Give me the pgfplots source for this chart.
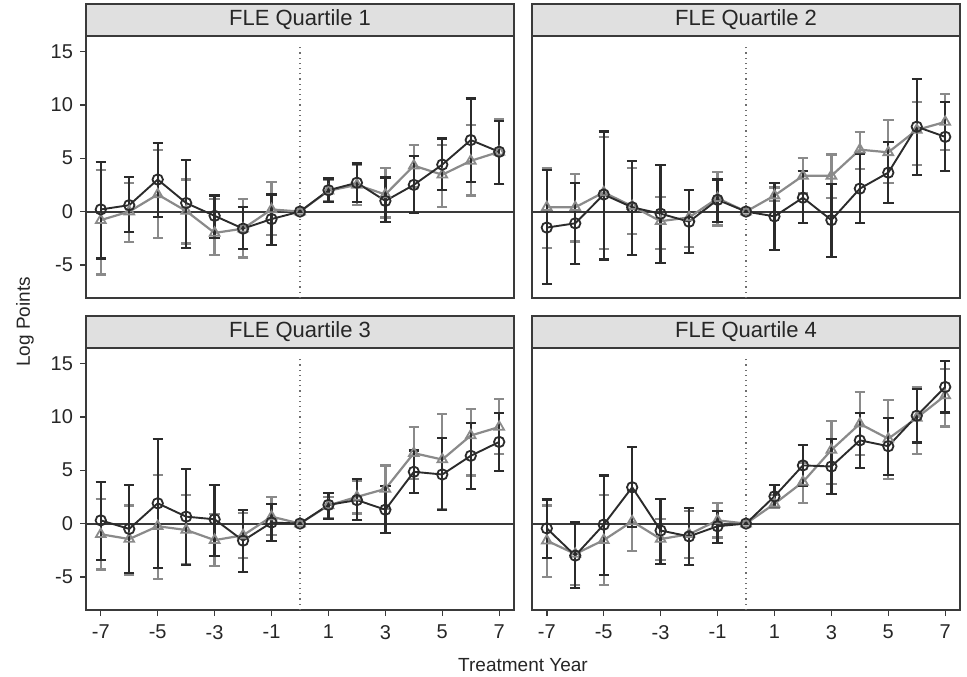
\documentclass[border=0pt]{standalone}
\usepackage{fontspec}
\setmainfont{Liberation Sans}
\usepackage{pgfplots}
\usepackage{pgfplotstable}
\pgfplotsset{compat=1.18}

\definecolor{blkcol}{HTML}{2B2B2B}
\definecolor{grycol}{HTML}{8A8A8A}
\definecolor{framecol}{HTML}{3A3A3A}
\definecolor{stripfill}{HTML}{E0E0E0}

% x  estimate  lower  upper
\pgfplotstableread{
x y lo hi
-7 0.2 -4.4 4.65
-6 0.6 -1.95 3.25
-5 3.0 -0.5 6.4
-4 0.8 -3.4 4.8
-3 -0.4 -2.5 1.5
-2 -1.6 -3.5 0.45
-1 -0.7 -3.1 1.6
0 0 0 0
1 2.0 0.9 3.1
2 2.7 0.9 4.5
3 1.0 -1.0 3.2
4 2.5 -0.1 5.2
5 4.4 2.0 6.85
6 6.7 2.8 10.6
7 5.6 2.6 8.5
}\qonek
\pgfplotstableread{
x y lo hi
-7 -0.8 -5.9 3.9
-6 0.0 -2.85 2.7
-5 1.6 -2.5 5.75
-4 0.05 -3.0 3.0
-3 -2.0 -4.1 1.2
-2 -1.6 -4.3 1.15
-1 0.2 -2.2 2.8
0 0 0 0
1 1.95 1.0 3.0
2 2.5 0.6 4.4
3 1.6 -0.55 4.1
4 4.3 2.3 6.25
5 3.45 0.4 6.25
6 4.75 1.5 8.1
7 5.6 2.6 8.7
}\qoneg
\pgfplotstableread{
x y lo hi
-7 -1.5 -6.8 3.9
-6 -1.1 -4.9 2.65
-5 1.6 -4.5 7.5
-4 0.4 -4.1 4.75
-3 -0.2 -4.8 4.35
-2 -0.95 -3.85 2.0
-1 1.1 -0.95 3.0
0 0 0 0
1 -0.45 -3.6 2.7
2 1.3 -1.1 3.8
3 -0.8 -4.25 2.55
4 2.15 -1.1 5.45
5 3.65 0.8 6.55
6 7.95 3.45 12.4
7 7.0 3.8 10.3
}\qtwok
\pgfplotstableread{
x y lo hi
-7 0.4 -3.4 4.1
-6 0.4 -2.8 3.55
-5 1.8 -3.5 7.0
-4 0.5 -2.1 4.1
-3 -0.9 -3.5 1.4
-2 -0.55 -3.3 2.0
-1 1.25 -1.3 3.7
0 0 0 0
1 1.5 1.0 2.25
2 3.35 1.7 5.0
3 3.35 1.25 5.35
4 5.8 4.0 7.45
5 5.55 2.7 8.55
6 7.65 4.35 10.3
7 8.4 5.8 11.0
}\qtwog
\pgfplotstableread{
x y lo hi
-7 0.3 -3.4 3.9
-6 -0.5 -4.6 3.6
-5 1.9 -4.15 7.9
-4 0.65 -3.85 5.15
-3 0.4 -3.05 3.65
-2 -1.6 -4.55 1.3
-1 0.1 -1.65 1.8
0 0 0 0
1 1.75 0.45 2.9
2 2.2 0.3 4.15
3 1.3 -0.9 3.55
4 4.85 2.85 6.85
5 4.6 1.3 8.0
6 6.35 3.25 9.4
7 7.65 4.9 10.35
}\qthreek
\pgfplotstableread{
x y lo hi
-7 -1.0 -4.3 2.3
-6 -1.45 -4.8 1.7
-5 -0.25 -5.2 4.55
-4 -0.6 -3.8 2.7
-3 -1.55 -4.0 0.9
-2 -1.1 -3.2 1.0
-1 0.65 -1.1 2.5
0 0 0 0
1 1.7 0.55 2.5
2 2.5 0.95 4.0
3 3.25 1.4 5.45
4 6.6 4.2 9.05
5 6.0 1.4 10.3
6 8.25 4.5 10.7
7 9.05 6.55 11.7
}\qthreeg
\pgfplotstableread{
x y lo hi
-7 -0.45 -3.25 2.25
-6 -3.0 -6.05 0.1
-5 -0.1 -4.8 4.5
-4 3.4 -0.3 7.15
-3 -0.65 -3.8 2.3
-2 -1.2 -3.85 1.45
-1 -0.25 -1.8 1.2
0 0 0 0
1 2.55 1.55 3.65
2 5.45 3.5 7.4
3 5.35 2.8 7.95
4 7.8 5.2 10.35
5 7.25 4.55 9.9
6 10.1 7.6 12.6
7 12.8 10.4 15.2
}\qfourk
\pgfplotstableread{
x y lo hi
-7 -1.6 -5.0 1.7
-6 -2.85 -5.75 0.1
-5 -1.55 -5.75 2.7
-4 0.2 -2.55 3.05
-3 -1.45 -3.45 0.45
-2 -1.0 -3.25 1.2
-1 0.3 -1.3 1.95
0 0 0 0
1 1.85 1.45 2.7
2 3.9 1.9 5.7
3 6.9 3.7 9.6
4 9.35 6.4 12.35
5 7.95 4.15 11.55
6 9.9 6.55 12.75
7 12.0 9.1 14.45
}\qfourg

\pgfplotsset{
  panel/.style={
    scale only axis, width=214pt, height=131pt,
    xmin=-7.52, xmax=7.52, ymin=-8.1, ymax=16.45,
    axis line style={framecol, line width=0.8pt},
    tick style={framecol, line width=0.7pt},
    tick align=outside, major tick length=3pt,
    xtick={-7,-5,...,7}, ytick={-5,0,...,15},
    xtick pos=bottom, ytick pos=left,
    xticklabel style={yshift=-1pt},
    ticklabel style={font=\fontsize{10}{11}\selectfont, text=black!85},
    /pgf/number format/assume math mode=true,
  },
  notop/.style={xtick=\empty},
  noleft/.style={ytick=\empty},
  blk/.style={blkcol, line width=0.95pt, mark=o, mark size=2.6pt,
    mark options={solid, line width=0.9pt},
    error bars/y dir=both, error bars/y explicit,
    error bars/error bar style={line width=1.15pt, blkcol},
    error bars/error mark options={rotate=90, mark size=2.6pt, line width=1.1pt, blkcol}},
  gry/.style={grycol, line width=1.1pt, mark=triangle, mark size=2.8pt,
    mark options={solid, line width=0.9pt},
    error bars/y dir=both, error bars/y explicit,
    error bars/error bar style={line width=1.15pt, grycol},
    error bars/error mark options={rotate=90, mark size=2.6pt, line width=1.1pt, grycol}},
}
\newcommand{\panelplots}[2]{%
  \addplot[framecol, line width=1pt, forget plot] coordinates {(-8,0) (8,0)};
  \addplot[grycol!80!black, line width=0.6pt, dotted, forget plot] coordinates {(0,-8.1) (0,15.6)};
  \addplot[gry] table[x=x, y=y, y error plus expr=\thisrow{hi}-\thisrow{y}, y error minus expr=\thisrow{y}-\thisrow{lo}] {#2};
  \addplot[blk] table[x=x, y=y, y error plus expr=\thisrow{hi}-\thisrow{y}, y error minus expr=\thisrow{y}-\thisrow{lo}] {#1};
}
\newcommand{\strip}[2]{%
  \draw[fill=stripfill, draw=framecol, line width=0.8pt] (#1.north west) rectangle ([yshift=16pt]#1.north east);
  \node[font=\fontsize{11}{13}\selectfont, text=black!85] at ([yshift=8pt]#1.north) {#2};
}

\begin{document}
\begin{tikzpicture}
\path[use as bounding box] (0,0) rectangle (483.5pt,-338pt);

\begin{axis}[panel, notop, name=p1, anchor=south west, at={(43pt,-149pt)}]
\panelplots{\qonek}{\qoneg}
\end{axis}
\begin{axis}[panel, notop, noleft, name=p2, anchor=south west, at={(266pt,-149pt)}]
\panelplots{\qtwok}{\qtwog}
\end{axis}
\begin{axis}[panel, name=p3, anchor=south west, at={(43pt,-305pt)}]
\panelplots{\qthreek}{\qthreeg}
\end{axis}
\begin{axis}[panel, noleft, name=p4, anchor=south west, at={(266pt,-305pt)}]
\panelplots{\qfourk}{\qfourg}
\end{axis}

\strip{p1}{FLE Quartile 1}
\strip{p2}{FLE Quartile 2}
\strip{p3}{FLE Quartile 3}
\strip{p4}{FLE Quartile 4}

\node[rotate=90, font=\fontsize{9.5}{11}\selectfont, text=black!85] at (12.5pt,-161pt) {Log Points};
\node[font=\fontsize{9.5}{11}\selectfont, text=black!85] at (261.5pt,-332.5pt) {Treatment Year};
\end{tikzpicture}
\end{document}
